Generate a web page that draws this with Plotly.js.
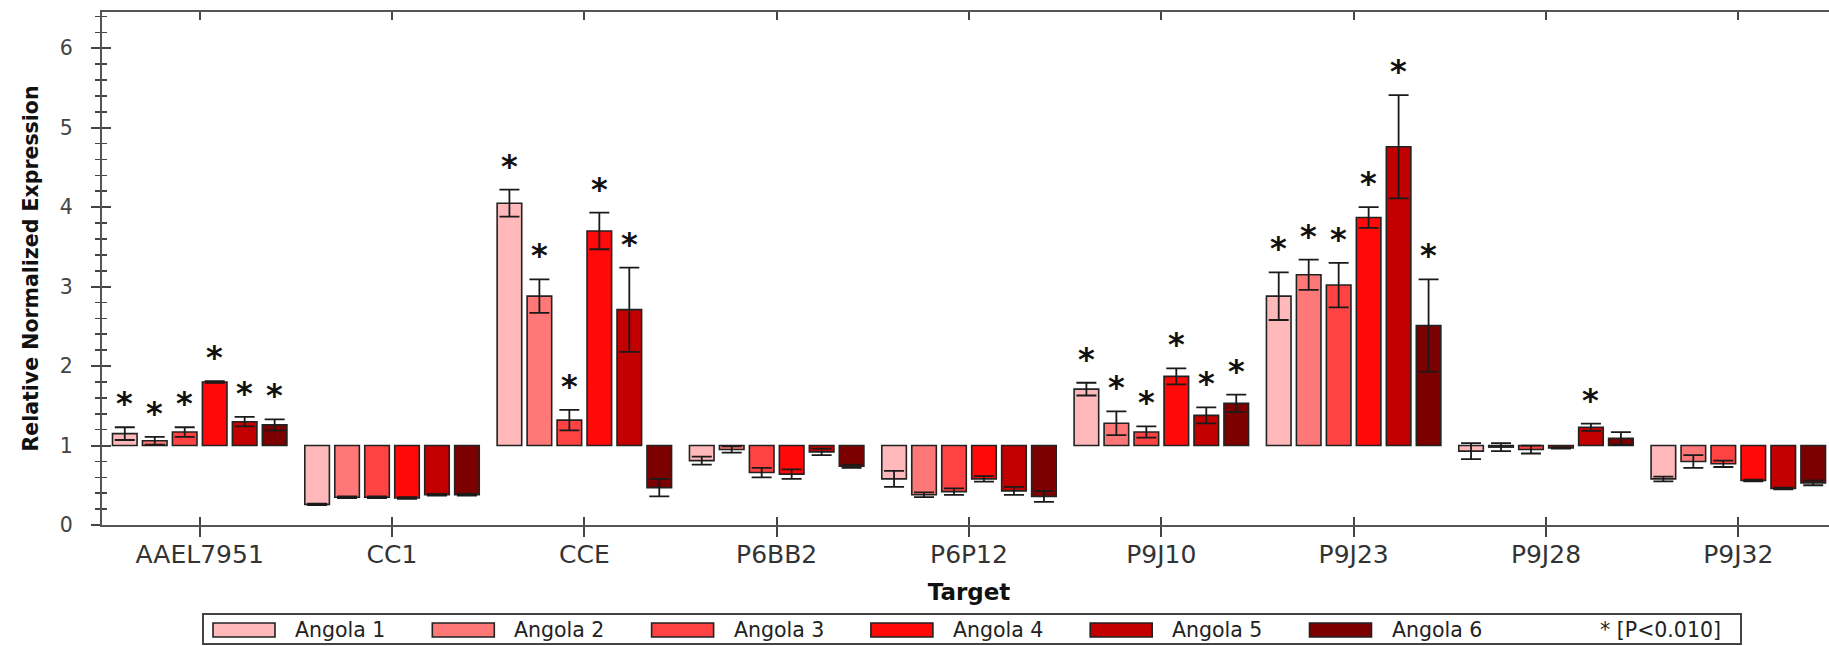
<!DOCTYPE html>
<html>
<head>
<meta charset="utf-8">
<script src="https://cdn.plot.ly/plotly-3.0.1.min.js"></script>
<style>
  html, body { margin: 0; padding: 0; background: #ffffff; overflow: hidden; }
  #chart { width: 1840px; height: 646px; }
</style>
</head>
<body>
<div id="chart"></div>
<script>
// Targets on the x axis
const categories = ['AAEL7951', 'CC1', 'CCE', 'P6BB2', 'P6P12', 'P9J10', 'P9J23', 'P9J28', 'P9J32'];

// Sample names
const seriesNames = ['Angola 1', 'Angola 2', 'Angola 3', 'Angola 4', 'Angola 5', 'Angola 6'];

// Relative normalized expression per target
const angola1 = [1.15, 0.26, 4.05, 0.81, 0.58, 1.71, 2.88, 0.93, 0.58];
const angola2 = [1.06, 0.35, 2.88, 0.95, 0.38, 1.28, 3.15, 0.98, 0.80];
const angola3 = [1.17, 0.35, 1.32, 0.66, 0.42, 1.17, 3.02, 0.95, 0.77];
const angola4 = [1.80, 0.34, 3.70, 0.64, 0.58, 1.87, 3.87, 0.97, 0.56];
const angola5 = [1.30, 0.38, 2.71, 0.92, 0.43, 1.38, 4.76, 1.23, 0.46];
const angola6 = [1.26, 0.38, 0.47, 0.74, 0.36, 1.53, 2.51, 1.09, 0.53];

// Standard error per target
const angola1Err = [0.08, 0.01, 0.17, 0.05, 0.10, 0.08, 0.30, 0.10, 0.03];
const angola2Err = [0.05, 0.01, 0.21, 0.04, 0.03, 0.15, 0.19, 0.05, 0.08];
const angola3Err = [0.06, 0.01, 0.13, 0.06, 0.04, 0.07, 0.28, 0.05, 0.04];
const angola4Err = [0.01, 0.01, 0.23, 0.06, 0.035, 0.10, 0.13, 0.01, 0.01];
const angola5Err = [0.06, 0.01, 0.53, 0.04, 0.05, 0.10, 0.65, 0.045, 0.01];
const angola6Err = [0.07, 0.01, 0.11, 0.02, 0.07, 0.11, 0.58, 0.08, 0.03];

// Significance (P < 0.010) flags per target
const angola1Sig = [1, 0, 1, 0, 0, 1, 1, 0, 0];
const angola2Sig = [1, 0, 1, 0, 0, 1, 1, 0, 0];
const angola3Sig = [1, 0, 1, 0, 0, 1, 1, 0, 0];
const angola4Sig = [1, 0, 1, 0, 0, 1, 1, 0, 0];
const angola5Sig = [1, 0, 1, 0, 0, 1, 1, 1, 0];
const angola6Sig = [1, 0, 0, 0, 0, 1, 1, 0, 0];

const sigLabel = '* [P<0.010]';

const seriesValues = [angola1, angola2, angola3, angola4, angola5, angola6];
const seriesErrors = [angola1Err, angola2Err, angola3Err, angola4Err, angola5Err, angola6Err];
const seriesSig = [angola1Sig, angola2Sig, angola3Sig, angola4Sig, angola5Sig, angola6Sig];

// Styling
const seriesColors = ['#ffb9ba', '#ff7878', '#ff4343', '#ff0909', '#c20000', '#7c0000'];
const outline = '#222222';
const baseline = 1;
const barGap = 0.065;
const barGroupGap = 0.18;
const sans = 'DejaVu Sans, Arial, sans-serif';
const sansBold = 'DejaVu Sans, Arial, sans-serif';

const traces = seriesNames.map((name, s) => ({
  type: 'bar',
  name: name,
  x: categories,
  y: seriesValues[s].map(v => v - baseline),
  base: baseline,
  marker: { color: seriesColors[s], line: { color: outline, width: 1.6 } },
  error_y: {
    type: 'data', array: seriesErrors[s], visible: true,
    color: '#1a1a1a', thickness: 1.8, width: 10
  },
  showlegend: false,
  hovertemplate: name + '<br>%{x}: %{customdata}<extra></extra>',
  customdata: seriesValues[s]
}));

// Invisible helper so the overlay axes (inner tick halves) get drawn
traces.push({
  type: 'scatter', x: [0], y: [0], xaxis: 'x2', yaxis: 'y2',
  mode: 'markers', marker: { opacity: 0 }, hoverinfo: 'skip', showlegend: false
});

// Significance asterisks above the error bars
const slot = (1 - barGap) / seriesNames.length;
const annotations = [];
seriesSig.forEach((flags, s) => {
  flags.forEach((f, c) => {
    if (!f) return;
    annotations.push({
      xref: 'x', yref: 'y',
      x: c + (s - (seriesNames.length - 1) / 2) * slot,
      y: seriesValues[s][c] + seriesErrors[s][c],
      text: '*', showarrow: false,
      xanchor: 'center', yanchor: 'middle', yshift: 24,
      font: { family: sansBold, size: 32, color: '#111111', weight: 'bold' }
    });
  });
});

// Legend strip below the axis title
const W = 1840, H = 646;
const margin = { l: 102, r: 4, t: 12, b: 121 };
const plotW = W - margin.l - margin.r;
const plotH = H - margin.t - margin.b;
const px = v => (v - margin.l) / plotW;
const py = v => (H - margin.b - v) / plotH;

const shapes = [{
  type: 'rect', xref: 'paper', yref: 'paper',
  x0: px(203), x1: px(1741), y0: py(644), y1: py(614),
  line: { color: '#444444', width: 2 }, fillcolor: 'rgba(0,0,0,0)'
}];
const legendPitch = 219.3;
seriesNames.forEach((name, s) => {
  const left = 213 + s * legendPitch;
  shapes.push({
    type: 'rect', xref: 'paper', yref: 'paper',
    x0: px(left), x1: px(left + 62), y0: py(637), y1: py(623),
    line: { color: outline, width: 1.6 }, fillcolor: seriesColors[s]
  });
  annotations.push({
    xref: 'paper', yref: 'paper', x: px(left + 80), y: py(630),
    xanchor: 'left', yanchor: 'middle', text: name, showarrow: false,
    font: { family: sans, size: 20.5, color: '#222222' }
  });
});
annotations.push({
  xref: 'paper', yref: 'paper', x: px(1723), y: py(630),
  xanchor: 'right', yanchor: 'middle', text: sigLabel, showarrow: false,
  font: { family: sans, size: 20.5, color: '#222222' }
});

const xRange = [-0.508, categories.length - 1 + 0.508];
const yRange = [0, 6.456];

const layout = {
  width: W, height: H, margin: margin,
  paper_bgcolor: '#ffffff', plot_bgcolor: '#ffffff',
  barmode: 'group', bargap: barGap, bargroupgap: barGroupGap,
  showlegend: false,
  xaxis: {
    type: 'category', range: xRange, fixedrange: true,
    showline: true, linecolor: '#555555', linewidth: 2,
    ticks: 'outside', ticklen: 10, tickwidth: 2, tickcolor: '#444444',
    tickfont: { family: sans, size: 25, color: '#333333' },
    ticklabelstandoff: -4,
    showgrid: false, zeroline: false,
    title: { text: 'Target', standoff: 16, font: { family: sansBold, size: 23, color: '#111111', weight: 'bold' } }
  },
  xaxis2: {
    overlaying: 'x', anchor: 'y', range: xRange, fixedrange: true,
    tickmode: 'array', tickvals: categories.map((_, i) => i),
    showticklabels: false, ticks: 'inside', ticklen: 8, tickwidth: 2, tickcolor: '#444444',
    showline: true, linecolor: '#555555', linewidth: 2, mirror: 'ticks',
    showgrid: false, zeroline: false
  },
  yaxis: {
    range: yRange, fixedrange: true, dtick: 1, tick0: 0,
    showline: true, linecolor: '#555555', linewidth: 2,
    ticks: 'outside', ticklen: 9, tickwidth: 2, tickcolor: '#444444',
    minor: { dtick: 0.2, ticks: 'outside', ticklen: 5, tickwidth: 1.6, tickcolor: '#444444', showgrid: false },
    tickfont: { family: sans, size: 20.5, color: '#444444' },
    ticklabelstandoff: 14,
    showgrid: false, zeroline: false,
    title: { text: 'Relative Normalized Expression', standoff: 16, font: { family: sansBold, size: 20.5, color: '#111111', weight: 'bold' } }
  },
  yaxis2: {
    overlaying: 'y', anchor: 'x', side: 'left', range: yRange, fixedrange: true,
    dtick: 1, tick0: 0, showticklabels: false,
    ticks: 'inside', ticklen: 9, tickwidth: 2, tickcolor: '#444444',
    minor: { dtick: 0.2, ticks: 'inside', ticklen: 5, tickwidth: 1.6, tickcolor: '#444444', showgrid: false },
    showline: false, showgrid: false, zeroline: false
  },
  shapes: shapes,
  annotations: annotations
};

Plotly.newPlot('chart', traces, layout, { displayModeBar: false, staticPlot: true });
</script>
</body>
</html>
